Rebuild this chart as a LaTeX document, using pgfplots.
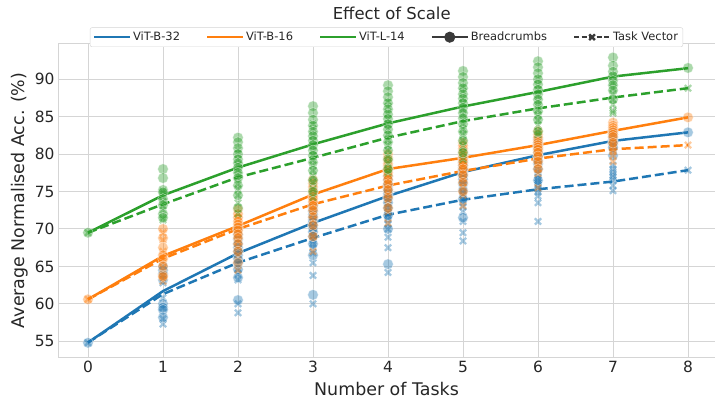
\documentclass[border=0pt]{standalone}
\usepackage{fontspec}
\setmainfont{DejaVu Sans}
\usepackage{pgfplots}
\pgfplotsset{compat=1.18}
\definecolor{cB}{HTML}{1F77B4}
\definecolor{cO}{HTML}{FF7F0E}
\definecolor{cG}{HTML}{2CA02C}
\definecolor{gridc}{HTML}{D5D5D5}
\definecolor{darkc}{HTML}{262626}
\definecolor{legc}{HTML}{3A3A3A}
\pgfplotsset{
  sBC/.style={only marks, mark=*, mark size=5.3bp, forget plot,
    mark options={fill=#1, fill opacity=0.4, draw=white, draw opacity=0.5, line width=0.6bp}},
  sTV/.style={only marks, mark=x, mark size=4.4bp, forget plot,
    mark options={draw=#1, draw opacity=0.4, line width=2.3bp}},
  mBC/.style={#1, line width=2.5bp, forget plot, no marks},
  mTV/.style={#1, line width=2.5bp, forget plot, no marks, dash pattern=on 9bp off 4bp},
}
\begin{document}
\begin{tikzpicture}
\begin{axis}[
  width=657bp, height=313bp, scale only axis,
  xmin=-0.4, xmax=8.36, ymin=52.9, ymax=94.7,
  xtick={0,...,8}, ytick={55,60,...,90},
  grid=major, grid style={gridc, line width=1bp},
  axis line style={gridc, line width=1bp},
  major tick length=0pt,
  tick label style={font=\fontsize{15.5}{18}\selectfont, text=darkc},
  xticklabel style={yshift=-1bp},
  /pgf/number format/assume math mode=true,
  xlabel={Number of Tasks}, ylabel={Average Normalised Acc. (\%)},
  label style={font=\fontsize{17.5}{20}\selectfont, text=darkc},
  xlabel style={yshift=-2bp},
  title={Effect of Scale},
  title style={at={(0.508,1)}, anchor=south, yshift=15bp, font=\fontsize{16.5}{19}\selectfont, text=darkc},
  legend columns=5,
  legend style={at={(0.5,1.053)}, anchor=north, draw=gridc, rounded corners=2bp, fill=white,
    font=\fontsize{11.5}{13}\selectfont, text=darkc, inner ysep=2.5bp,
    /tikz/every even column/.append style={column sep=24bp}},
  legend image code/.code={\draw[mark repeat=2,mark phase=2,#1] plot coordinates {(0bp,0bp)(18bp,0bp)(36bp,0bp)};},
]
\addlegendimage{cB, line width=2bp}\addlegendentry{ViT-B-32}
\addlegendimage{cO, line width=2bp}\addlegendentry{ViT-B-16}
\addlegendimage{cG, line width=2bp}\addlegendentry{ViT-L-14}
\addlegendimage{legc, line width=2bp, mark=*, mark size=4.5bp}\addlegendentry{Breadcrumbs}
\addlegendimage{legc, line width=2bp, dash pattern=on 5bp off 2.5bp, mark=x, mark size=4bp, mark options={solid, line width=2.4bp}}\addlegendentry{Task Vector}

% ---------- ViT-B-32 scatter ----------
\addplot[sTV=cB] coordinates {
(0,54.8)
(1,64.5)(1,64.0)(1,63.5)(1,62.8)(1,60.8)(1,59.5)(1,58.0)(1,57.3)
(2,68.5)(2,67.9)(2,67.3)(2,66.8)(2,66.3)(2,65.8)(2,65.3)(2,64.7)(2,64.0)(2,63.2)(2,60.0)(2,58.8)
(3,71.0)(3,70.6)(3,70.2)(3,69.8)(3,69.4)(3,69.1)(3,68.8)(3,68.4)(3,68.0)(3,67.5)(3,66.8)(3,65.5)(3,63.8)(3,60.0)
(4,74.0)(4,73.6)(4,73.2)(4,72.8)(4,72.5)(4,72.2)(4,71.9)(4,71.6)(4,71.2)(4,70.7)(4,70.0)(4,68.9)(4,67.5)(4,64.2)
(5,76.3)(5,75.9)(5,75.5)(5,75.1)(5,74.8)(5,74.5)(5,74.2)(5,73.9)(5,73.5)(5,73.0)(5,72.3)(5,71.0)(5,69.5)(5,68.4)
(6,77.6)(6,77.2)(6,76.8)(6,76.5)(6,76.2)(6,75.9)(6,75.6)(6,75.3)(6,74.9)(6,74.4)(6,73.5)(6,71.0)
(7,78.5)(7,78.0)(7,77.6)(7,77.2)(7,76.9)(7,76.5)(7,75.8)(7,75.1)
(8,77.85)
};
\addplot[sBC=cB] coordinates {
(0,54.8)
(1,65.0)(1,64.5)(1,64.0)(1,63.2)(1,60.0)(1,59.5)(1,59.2)(1,58.2)
(2,70.0)(2,69.2)(2,68.6)(2,68.0)(2,67.5)(2,67.0)(2,66.5)(2,66.0)(2,65.4)(2,64.6)(2,63.5)(2,60.5)
(3,73.2)(3,72.8)(3,72.3)(3,71.9)(3,71.5)(3,71.2)(3,70.9)(3,70.5)(3,70.1)(3,69.6)(3,69.0)(3,68.0)(3,66.5)(3,61.2)
(4,77.0)(4,76.5)(4,76.0)(4,75.6)(4,75.3)(4,75.0)(4,74.7)(4,74.4)(4,74.0)(4,73.5)(4,72.8)(4,71.8)(4,70.0)(4,65.3)
(5,79.5)(5,79.1)(5,78.8)(5,78.5)(5,78.2)(5,77.9)(5,77.6)(5,77.3)(5,77.0)(5,76.6)(5,76.0)(5,75.2)(5,74.0)(5,71.5)
(6,82.0)(6,81.5)(6,81.1)(6,80.8)(6,80.5)(6,80.2)(6,79.9)(6,79.6)(6,79.2)(6,78.7)(6,78.0)(6,76.5)
(7,83.0)(7,82.6)(7,82.2)(7,81.9)(7,81.6)(7,81.3)(7,80.9)(7,79.8)
(8,82.9)
};
% ---------- ViT-B-16 scatter ----------
\addplot[sTV=cO] coordinates {
(0,60.6)
(1,69.5)(1,68.5)(1,67.0)(1,66.2)(1,65.6)(1,64.8)(1,63.8)(1,63.0)
(2,72.0)(2,71.5)(2,71.0)(2,70.6)(2,70.2)(2,69.9)(2,69.5)(2,69.0)(2,68.4)(2,67.6)(2,66.5)(2,64.5)
(3,75.3)(3,74.8)(3,74.4)(3,74.0)(3,73.7)(3,73.4)(3,73.1)(3,72.8)(3,72.4)(3,71.9)(3,71.2)(3,70.3)(3,69.0)(3,67.0)
(4,77.8)(4,77.3)(4,76.9)(4,76.6)(4,76.3)(4,76.0)(4,75.7)(4,75.4)(4,75.0)(4,74.6)(4,74.0)(4,73.3)(4,72.3)(4,70.8)
(5,79.8)(5,79.4)(5,79.0)(5,78.7)(5,78.4)(5,78.1)(5,77.8)(5,77.5)(5,77.1)(5,76.7)(5,76.2)(5,75.5)(5,74.5)(5,73.1)
(6,81.3)(6,80.9)(6,80.5)(6,80.2)(6,79.9)(6,79.6)(6,79.3)(6,79.0)(6,78.6)(6,78.1)(6,77.4)(6,75.5)
(7,82.0)(7,81.6)(7,81.2)(7,80.9)(7,80.6)(7,80.3)(7,79.8)(7,79.0)
(8,81.2)
};
\addplot[sBC=cO] coordinates {
(0,60.6)
(1,70.0)(1,68.8)(1,67.5)(1,66.5)(1,66.0)(1,65.0)(1,63.8)(1,63.6)
(2,72.6)(2,72.0)(2,71.5)(2,71.0)(2,70.6)(2,70.2)(2,69.8)(2,69.3)(2,68.8)(2,68.0)(2,67.0)(2,65.5)
(3,76.6)(3,76.1)(3,75.6)(3,75.2)(3,74.9)(3,74.6)(3,74.3)(3,74.0)(3,73.6)(3,73.1)(3,72.5)(3,71.6)(3,70.5)(3,69.0)
(4,80.0)(4,79.5)(4,79.1)(4,78.7)(4,78.4)(4,78.1)(4,77.8)(4,77.5)(4,77.1)(4,76.6)(4,76.0)(4,75.2)(4,74.2)(4,72.8)
(5,81.5)(5,81.1)(5,80.7)(5,80.4)(5,80.1)(5,79.8)(5,79.5)(5,79.2)(5,78.9)(5,78.5)(5,78.0)(5,77.2)(5,76.2)(5,75.0)
(6,83.1)(6,82.6)(6,82.2)(6,81.8)(6,81.5)(6,81.2)(6,80.9)(6,80.6)(6,80.2)(6,79.7)(6,79.0)(6,78.0)
(7,84.2)(7,83.8)(7,83.5)(7,83.2)(7,82.9)(7,82.6)(7,82.3)(7,81.5)
(8,84.9)
};
% ---------- ViT-L-14 scatter ----------
\addplot[sTV=cG] coordinates {
(0,69.5)
(1,75.1)(1,74.8)(1,74.3)(1,73.6)(1,73.0)(1,72.5)(1,71.5)(1,71.2)
(2,80.6)(2,80.0)(2,79.2)(2,78.5)(2,77.8)(2,77.2)(2,76.6)(2,76.0)(2,75.3)(2,74.5)(2,73.5)(2,72.0)
(3,84.0)(3,83.3)(3,82.5)(3,81.8)(3,81.0)(3,80.4)(3,79.8)(3,79.2)(3,78.5)(3,77.8)(3,77.0)(3,76.2)(3,75.3)(3,74.2)
(4,87.0)(4,86.3)(4,85.5)(4,84.7)(4,84.0)(4,83.3)(4,82.6)(4,81.9)(4,81.2)(4,80.5)(4,79.7)(4,78.8)(4,77.9)(4,77.5)
(5,89.0)(5,88.3)(5,87.5)(5,86.8)(5,86.0)(5,85.3)(5,84.6)(5,84.0)(5,83.3)(5,82.6)(5,81.8)(5,81.0)(5,80.2)(5,79.3)
(6,90.0)(6,89.2)(6,88.5)(6,87.8)(6,87.1)(6,86.5)(6,85.9)(6,85.2)(6,84.5)(6,83.8)(6,83.0)(6,82.6)
(7,90.5)(7,89.5)(7,88.8)(7,88.0)(7,87.3)(7,86.6)(7,85.8)(7,85.5)
(8,88.8)
};
\addplot[sBC=cG] coordinates {
(0,69.5)
(1,78.0)(1,76.8)(1,75.2)(1,74.9)(1,74.0)(1,73.2)(1,72.0)(1,71.5)
(2,82.2)(2,81.6)(2,80.8)(2,80.0)(2,79.3)(2,78.8)(2,78.2)(2,77.5)(2,76.8)(2,75.8)(2,74.5)(2,72.8)
(3,86.4)(3,85.5)(3,84.6)(3,83.8)(3,83.0)(3,82.4)(3,81.8)(3,81.2)(3,80.5)(3,79.8)(3,78.9)(3,77.8)(3,76.5)(3,75.0)
(4,89.2)(4,88.4)(4,87.6)(4,86.8)(4,86.0)(4,85.3)(4,84.7)(4,84.0)(4,83.3)(4,82.5)(4,81.6)(4,80.5)(4,79.3)(4,78.0)
(5,91.1)(5,90.3)(5,89.5)(5,88.8)(5,88.0)(5,87.4)(5,86.8)(5,86.2)(5,85.5)(5,84.8)(5,84.0)(5,83.0)(5,81.8)(5,80.2)
(6,92.4)(6,91.6)(6,90.8)(6,90.0)(6,89.3)(6,88.6)(6,88.0)(6,87.3)(6,86.6)(6,85.7)(6,84.6)(6,83.0)
(7,92.9)(7,91.8)(7,91.0)(7,90.4)(7,89.8)(7,89.2)(7,88.5)(7,87.3)
(8,91.5)
};
% ---------- mean lines ----------
\addplot[mBC=cB] coordinates {(0,54.83)(1,61.7)(2,66.76)(3,70.8)(4,74.4)(5,77.6)(6,79.85)(7,81.76)(8,82.9)};
\addplot[mTV=cB] coordinates {(0,54.83)(1,61.3)(2,65.5)(3,68.8)(4,71.9)(5,73.9)(6,75.3)(7,76.33)(8,77.85)};
\addplot[mBC=cO] coordinates {(0,60.6)(1,66.4)(2,70.4)(3,74.6)(4,78.0)(5,79.5)(6,81.2)(7,83.1)(8,84.9)};
\addplot[mTV=cO] coordinates {(0,60.6)(1,66.05)(2,70.0)(3,73.3)(4,75.8)(5,77.75)(6,79.4)(7,80.65)(8,81.2)};
\addplot[mBC=cG] coordinates {(0,69.5)(1,74.5)(2,78.2)(3,81.3)(4,84.1)(5,86.35)(6,88.3)(7,90.35)(8,91.47)};
\addplot[mTV=cG] coordinates {(0,69.5)(1,73.3)(2,76.9)(3,79.5)(4,82.2)(5,84.4)(6,86.1)(7,87.55)(8,88.8)};
\end{axis}
\pgfresetboundingbox
\path ([xshift=-58bp,yshift=-42bp]current axis.south west) rectangle ([yshift=44bp]current axis.north east);
\end{tikzpicture}
\end{document}
